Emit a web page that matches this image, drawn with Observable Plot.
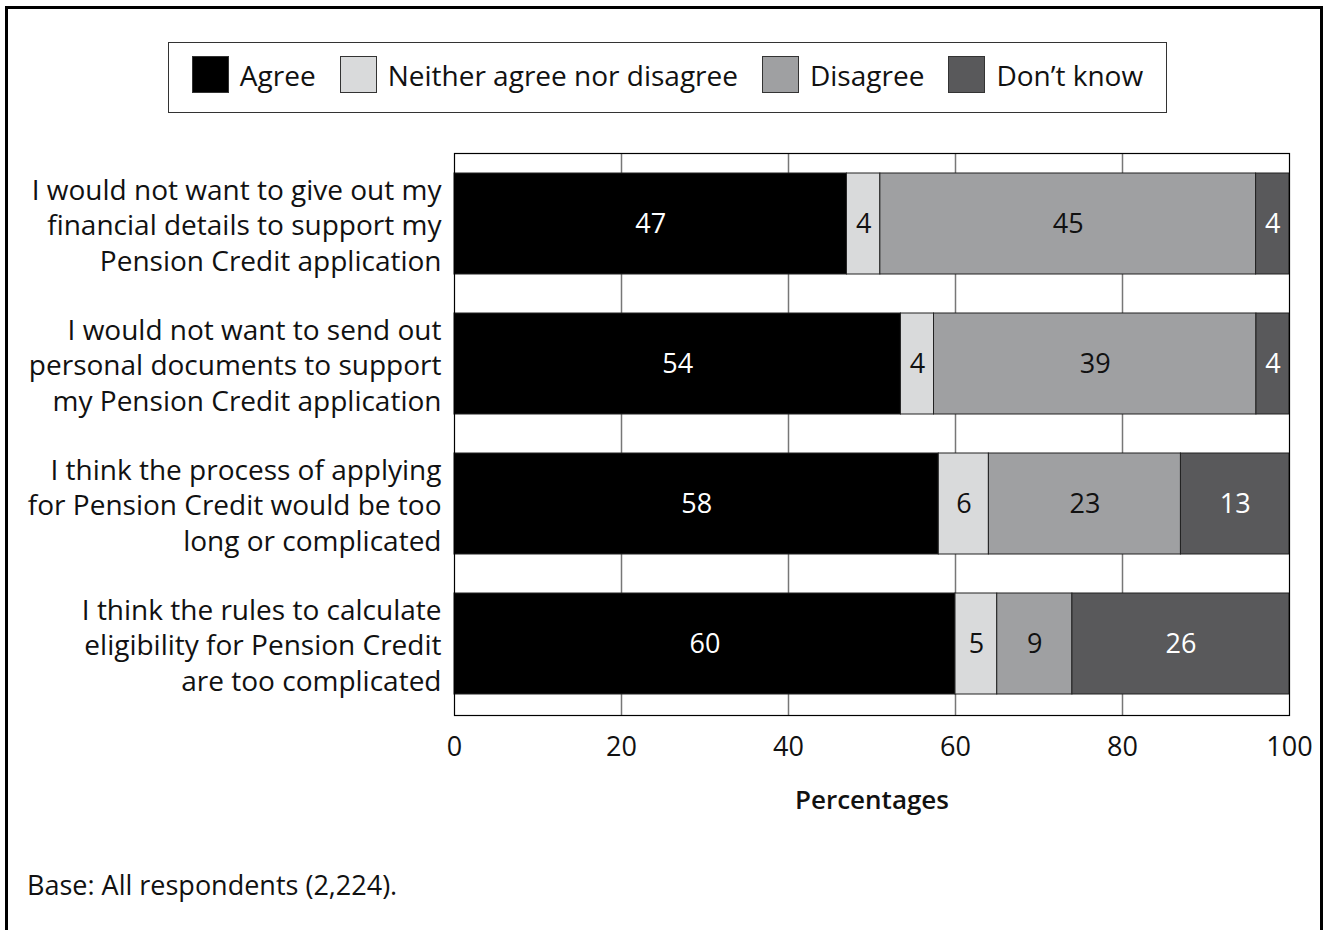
<!DOCTYPE html>
<html>
<head>
<meta charset="utf-8">
<script src="https://cdn.jsdelivr.net/npm/d3@7"></script>
<script src="https://cdn.jsdelivr.net/npm/@observablehq/plot@0.6"></script>
<style>
  html, body { margin: 0; padding: 0; background: #fff; }
  #wrap { position: relative; width: 1325px; height: 930px; overflow: hidden; font-family: "Open Sans", sans-serif; color: #111; }
  #border { position: absolute; left: 5px; top: 6px; width: 1318px; height: 1000px; border: 3px solid #000; box-sizing: border-box; }
  #legend { position: absolute; left: 168px; top: 42px; width: 999px; height: 71px; border: 1.5px solid #333; box-sizing: border-box;
            display: flex; align-items: center; justify-content: center; font-size: 28px; padding-bottom: 6px; }
  .item { display: flex; align-items: center; margin: 0 12px; }
  .sw { width: 37px; height: 37px; border: 1.2px solid #333; box-sizing: border-box; margin-right: 11px; }
  #chart { position: absolute; left: 0; top: 120px; }
  #caption { position: absolute; left: 27px; top: 866px; font-size: 27px; }
</style>
</head>
<body>
<div id="wrap">
  <div id="border"></div>
  <div id="legend"></div>
  <div id="chart"></div>
  <div id="caption"></div>
</div>
<script>
const statements = [
  "I would not want to give out my\nfinancial details to support my\nPension Credit application",
  "I would not want to send out\npersonal documents to support\nmy Pension Credit application",
  "I think the process of applying\nfor Pension Credit would be too\nlong or complicated",
  "I think the rules to calculate\neligibility for Pension Credit\nare too complicated"
];
const responses = ["Agree", "Neither agree nor disagree", "Disagree", "Don\u2019t know"];
const colors = ["#000000", "#d9dadb", "#9fa0a2", "#59595b"];
const labelColors = ["#ffffff", "#111111", "#111111", "#ffffff"];
const agree    = [47, 54, 58, 60];
const neither  = [4, 4, 6, 5];
const disagree = [45, 39, 23, 9];
const dontKnow = [4, 4, 13, 26];
const xTicks = [0, 20, 40, 60, 80, 100];
const gridTicks = [20, 40, 60, 80];
const xLabel = "Percentages";
const caption = "Base: All respondents (2,224).";

// build table, stacking each row and normalising to 100
const series = [agree, neither, disagree, dontKnow];
const rows = [];
statements.forEach((s, i) => {
  const total = d3.sum(series, a => a[i]);
  let acc = 0;
  series.forEach((a, j) => {
    const v = a[i];
    const x1 = acc / total * 100;
    acc += v;
    const x2 = acc / total * 100;
    rows.push({statement: s, response: responses[j], value: v, x1, x2, mid: (x1 + x2) / 2, tc: labelColors[j]});
  });
});

// legend
const leg = document.getElementById("legend");
responses.forEach((r, j) => {
  const it = document.createElement("div");
  it.className = "item";
  const sw = document.createElement("div");
  sw.className = "sw";
  sw.style.background = colors[j];
  const t = document.createElement("span");
  t.textContent = r;
  it.appendChild(sw); it.appendChild(t);
  leg.appendChild(it);
});
document.getElementById("caption").textContent = caption;

const chart = Plot.plot({
  width: 1325,
  height: 700,
  marginLeft: 454,
  marginRight: 36,
  marginTop: 33,
  marginBottom: 105,
  style: {fontFamily: "'Open Sans', sans-serif", color: "#111", background: "transparent"},
  x: {domain: [0, 100]},
  y: {domain: statements, paddingInner: 0.277, paddingOuter: 0.1385},
  color: {domain: responses, range: colors},
  marks: [
    Plot.gridX(gridTicks, {stroke: "#777", strokeOpacity: 1, strokeWidth: 1.5}),
    Plot.barX(rows, {y: "statement", x1: "x1", x2: "x2", fill: "response", stroke: "#222", strokeWidth: 1}),
    Plot.text(rows, {y: "statement", x: "mid", text: d => String(d.value), fill: d => d.tc, fontSize: 27}),
    Plot.frame({stroke: "#000", strokeWidth: 1.2}),
    Plot.axisY({tickSize: 0, tickPadding: 13, fontSize: 28, lineHeight: 1.27, label: null}),
    Plot.axisX(xTicks, {tickSize: 0, tickPadding: 21, fontSize: 27, label: null}),
    Plot.text([xLabel], {frameAnchor: "bottom", dy: 93, fontSize: 26, fontWeight: 600})
  ]
});
document.getElementById("chart").appendChild(chart);
</script>
</body>
</html>
